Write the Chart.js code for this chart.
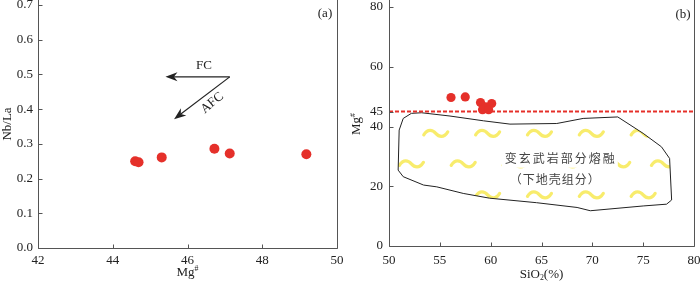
<!DOCTYPE html>
<html lang="zh">
<head>
<meta charset="UTF-8">
<title>Nb/La - Mg# / Mg# - SiO2</title>
<style>
  body { margin: 0; background: #fff; }
  #wrap { position: relative; width: 700px; height: 284px; }
  #chartA { position: absolute; left: 0; top: 0; }
  #chartB { position: absolute; left: 350px; top: 0; }
</style>
</head>
<body>
<div id="wrap">
  <canvas id="chartA" width="350" height="284"></canvas>
  <canvas id="chartB" width="350" height="284"></canvas>
</div>
<script src="https://cdn.jsdelivr.net/npm/chart.js"></script>
<script>
// (a) Nb/La vs Mg#
const mgA = [44.6, 44.69, 45.31, 46.72, 47.13, 49.18];
const nbLa = [0.250, 0.247, 0.261, 0.286, 0.272, 0.270];
const xTicksA = [42, 44, 46, 48, 50];
const yTicksA = [0, 0.1, 0.2, 0.3, 0.4, 0.5, 0.6, 0.7];
// arrows: start point, FC tip, AFC tip
const arrowStart = [47.13, 0.493];
const fcTip = [45.41, 0.493];
const afcTip = [45.64, 0.371];
const fcLabel = [46.44, 0.526];
const afcLabel = [46.66, 0.418];

// (b) Mg# vs SiO2
const sio2 = [56.1, 57.5, 59.0, 60.1, 59.5, 59.2, 59.8];
const mgB = [49.7, 49.9, 48.0, 47.7, 46.6, 45.6, 45.6];
const xTicksB = [50, 55, 60, 65, 70, 75, 80];
const yTicksB = [0, 20, 40, 45, 60, 80];
const mgLimit = 45;
// field of lower-crust (metabasalt partial melt)
const polyX = [52.2, 53.2, 56.0, 59.3, 61.9, 66.5, 69.1, 72.5, 75.0, 76.8, 77.6, 77.8, 77.3, 75.0, 69.8, 68.5, 64.5, 59.9, 57.3, 54.7, 53.4, 51.4, 50.9, 51.0, 51.4, 52.2];
const polyY = [44.4, 44.6, 43.5, 41.9, 40.8, 41.0, 42.7, 43.2, 37.7, 33.2, 29.3, 15.4, 14.0, 13.4, 11.8, 12.9, 14.5, 16.0, 17.6, 19.8, 20.4, 23.2, 25.4, 38.8, 42.7, 44.4];
// wavy fill marks (centres)
const waveRowY = [37.7, 27.5, 17.1];
const waveRowX = [
  [54.6, 59.7, 64.8, 69.9, 75.0],
  [52.2, 57.3, 62.4, 67.5, 72.5, 77.0],
  [59.7, 64.8, 69.9, 75.0]
];
const fieldText = ['变玄武岩部分熔融', '（下地壳组分）'];
const fieldTextPos = [[66.8, 29.2], [66.3, 22.2]];

const RED = '#e5302a';
const SERIF = '"Liberation Serif", "Times New Roman", serif';
const tickFont = { family: SERIF, size: 13 };

function drawSupText(ctx, base, sup, cx, cy, size) {
  ctx.font = size + 'px ' + SERIF;
  const w1 = ctx.measureText(base).width;
  ctx.font = (size * 0.6) + 'px ' + SERIF;
  const w2 = ctx.measureText(sup).width;
  const x0 = cx - (w1 + w2) / 2;
  ctx.textAlign = 'left';
  ctx.textBaseline = 'middle';
  ctx.font = size + 'px ' + SERIF;
  ctx.fillText(base, x0, cy);
  ctx.font = (size * 0.6) + 'px ' + SERIF;
  ctx.fillText(sup, x0 + w1, cy - size * 0.35);
}

function drawSubText(ctx, base, sub, tail, cx, cy, size) {
  ctx.font = size + 'px ' + SERIF;
  const w1 = ctx.measureText(base).width;
  const w3 = ctx.measureText(tail).width;
  ctx.font = (size * 0.6) + 'px ' + SERIF;
  const w2 = ctx.measureText(sub).width;
  const x0 = cx - (w1 + w2 + w3) / 2;
  ctx.textAlign = 'left';
  ctx.textBaseline = 'middle';
  ctx.font = size + 'px ' + SERIF;
  ctx.fillText(base, x0, cy);
  ctx.fillText(tail, x0 + w1 + w2, cy);
  ctx.font = (size * 0.6) + 'px ' + SERIF;
  ctx.fillText(sub, x0 + w1, cy + size * 0.25);
}

// frame with inward ticks
const framePlugin = {
  id: 'frame',
  afterDraw(chart) {
    const { ctx, chartArea: a, scales: { x, y } } = chart;
    ctx.save();
    ctx.strokeStyle = '#555';
    ctx.lineWidth = 1;
    ctx.beginPath();
    const L = Math.round(a.left) + 0.5, R = Math.round(a.right) + 0.5, B = Math.round(a.bottom) + 0.5;
    ctx.moveTo(L, 0); ctx.lineTo(L, B); ctx.lineTo(R, B); ctx.lineTo(R, 0);
    x.ticks.forEach(t => {
      const px = Math.round(x.getPixelForValue(t.value)) + 0.5;
      ctx.moveTo(px, B); ctx.lineTo(px, B - 4);
    });
    y.ticks.forEach(t => {
      const py = Math.round(y.getPixelForValue(t.value)) + 0.5;
      ctx.moveTo(L, py); ctx.lineTo(L + 4, py);
    });
    ctx.stroke();
    ctx.restore();
  }
};

function arrow(ctx, x1, y1, x2, y2) {
  const ang = Math.atan2(y2 - y1, x2 - x1);
  const len = 12, hw = 4.5, notch = 3.5;
  const bx = x2 - Math.cos(ang) * (len - notch), by = y2 - Math.sin(ang) * (len - notch);
  ctx.beginPath();
  ctx.moveTo(x1, y1); ctx.lineTo(bx, by);
  ctx.stroke();
  ctx.save();
  ctx.translate(x2, y2);
  ctx.rotate(ang);
  ctx.beginPath();
  ctx.moveTo(0, 0);
  ctx.lineTo(-len, -hw);
  ctx.lineTo(-len + notch, 0);
  ctx.lineTo(-len, hw);
  ctx.closePath();
  ctx.fill();
  ctx.restore();
}

const decoA = {
  id: 'decoA',
  afterDatasetsDraw(chart) {
    const { ctx, scales: { x, y } } = chart;
    ctx.save();
    ctx.strokeStyle = '#222';
    ctx.fillStyle = '#222';
    ctx.lineWidth = 1.2;
    const sx = x.getPixelForValue(arrowStart[0]), sy = y.getPixelForValue(arrowStart[1]);
    arrow(ctx, sx, sy, x.getPixelForValue(fcTip[0]), y.getPixelForValue(fcTip[1]));
    arrow(ctx, sx, sy, x.getPixelForValue(afcTip[0]), y.getPixelForValue(afcTip[1]));
    ctx.font = '13px ' + SERIF;
    ctx.textAlign = 'center';
    ctx.textBaseline = 'middle';
    ctx.fillText('FC', x.getPixelForValue(fcLabel[0]), y.getPixelForValue(fcLabel[1]));
    ctx.save();
    ctx.translate(x.getPixelForValue(afcLabel[0]), y.getPixelForValue(afcLabel[1]));
    ctx.rotate(-40 * Math.PI / 180);
    ctx.fillText('AFC', 0, 0);
    ctx.restore();
    // labels and titles
    ctx.fillStyle = '#222';
    ctx.fillText('(a)', 325, 14);
    drawSupText(ctx, 'Mg', '#', (chart.chartArea.left + chart.chartArea.right) / 2, 273, 13);
    ctx.save();
    ctx.translate(8, 124);
    ctx.rotate(-Math.PI / 2);
    ctx.font = '13px ' + SERIF;
    ctx.textAlign = 'center';
    ctx.fillText('Nb/La', 0, 0);
    ctx.restore();
    ctx.restore();
  }
};

const fieldB = {
  id: 'fieldB',
  beforeDatasetsDraw(chart) {
    const { ctx, scales: { x, y } } = chart;
    const meta = chart.getDatasetMeta(2);
    ctx.save();
    ctx.beginPath();
    meta.data.forEach((p, i) => i ? ctx.lineTo(p.x, p.y) : ctx.moveTo(p.x, p.y));
    ctx.closePath();
    ctx.clip();
    ctx.strokeStyle = '#f8ec6c';
    ctx.lineWidth = 3.2;
    ctx.lineCap = 'round';
    waveRowY.forEach((wy, r) => {
      waveRowX[r].forEach(wx => {
        const cx = x.getPixelForValue(wx), cy = y.getPixelForValue(wy);
        ctx.beginPath();
        ctx.moveTo(cx - 12, cy + 1.5);
        ctx.bezierCurveTo(cx - 8, cy - 5, cx - 3, cy - 3.5, cx, cy);
        ctx.bezierCurveTo(cx + 3, cy + 3.5, cx + 8, cy + 5, cx + 12, cy - 1.5);
        ctx.stroke();
      });
    });
    // field label with white box
    ctx.font = '12px "Noto Sans CJK SC", sans-serif';
    ctx.textAlign = 'center';
    ctx.textBaseline = 'middle';
    fieldText.forEach((t, i) => {
      ctx.letterSpacing = i === 0 ? '2px' : '1px';
      const px = x.getPixelForValue(fieldTextPos[i][0]), py = y.getPixelForValue(fieldTextPos[i][1]);
      const w = ctx.measureText(t).width;
      if (i === 0) {
        ctx.fillStyle = '#fff';
        ctx.fillRect(px - w / 2 - 2, py - 9, w + 4, 18);
      }
      ctx.fillStyle = '#444';
      ctx.fillText(t, px + (i === 0 ? 1 : 0.5), py);
    });
    ctx.restore();
  },
  afterDatasetsDraw(chart) {
    const { ctx, chartArea: a } = chart;
    ctx.save();
    ctx.fillStyle = '#222';
    ctx.font = '13px ' + SERIF;
    ctx.textAlign = 'center';
    ctx.textBaseline = 'middle';
    ctx.fillText('(b)', 333, 15);
    drawSubText(ctx, 'SiO', '2', '(%)', (a.left + a.right) / 2, 275, 13);
    ctx.save();
    ctx.translate(7, 124);
    ctx.rotate(-Math.PI / 2);
    drawSupText(ctx, 'Mg', '#', 0, 0, 13);
    ctx.restore();
    ctx.restore();
  }
};

function axis(min, max, ticks, pad, fixed, fmt) {
  return {
    type: 'linear', min, max,
    grid: { display: false, drawTicks: false },
    border: { display: false },
    ticks: { font: tickFont, color: '#222', padding: pad, callback: fmt || (v => v) },
    afterBuildTicks(s) { s.ticks = ticks.map(v => ({ value: v })); },
    afterFit(s) {
      if (s.isHorizontal()) s.height = fixed; else s.width = fixed;
      s.paddingLeft = 0; s.paddingRight = 0; s.paddingTop = 0; s.paddingBottom = 0;
    }
  };
}

const common = {
  responsive: false,
  animation: false,
  events: [],
  plugins: { legend: { display: false }, tooltip: { enabled: false } }
};

new Chart(document.getElementById('chartA'), {
  type: 'scatter',
  data: {
    datasets: [{
      data: mgA.map((v, i) => ({ x: v, y: nbLa[i] })),
      pointRadius: 5, backgroundColor: RED, borderWidth: 0
    }]
  },
  options: Object.assign({}, common, {
    layout: { padding: { left: 0, right: 13, top: 3, bottom: 0 } },
    scales: {
      x: axis(42, 50, xTicksA, 5, 36),
      y: axis(0, 0.7, yTicksA, 5, 38, v => v.toFixed(1))
    }
  }),
  plugins: [framePlugin, decoA]
});

new Chart(document.getElementById('chartB'), {
  type: 'scatter',
  data: {
    datasets: [
      {
        data: sio2.map((v, i) => ({ x: v, y: mgB[i] })),
        pointRadius: 4.6, backgroundColor: RED, borderWidth: 0, order: 0
      },
      {
        data: [{ x: 50, y: mgLimit }, { x: 80, y: mgLimit }],
        showLine: true, pointRadius: 0, borderColor: RED, borderWidth: 2,
        borderDash: [4, 2], order: 1
      },
      {
        data: polyX.map((v, i) => ({ x: v, y: polyY[i] })),
        showLine: true, pointRadius: 0, borderColor: '#222', borderWidth: 1,
        tension: 0, fill: false, order: 2
      }
    ]
  },
  options: Object.assign({}, common, {
    layout: { padding: { left: 0, right: 6, top: 7, bottom: 0 } },
    scales: {
      x: axis(50, 80, xTicksB, 7, 38),
      y: axis(0, 80, yTicksB, 6, 39)
    }
  }),
  plugins: [framePlugin, fieldB]
});
</script>
</body>
</html>
